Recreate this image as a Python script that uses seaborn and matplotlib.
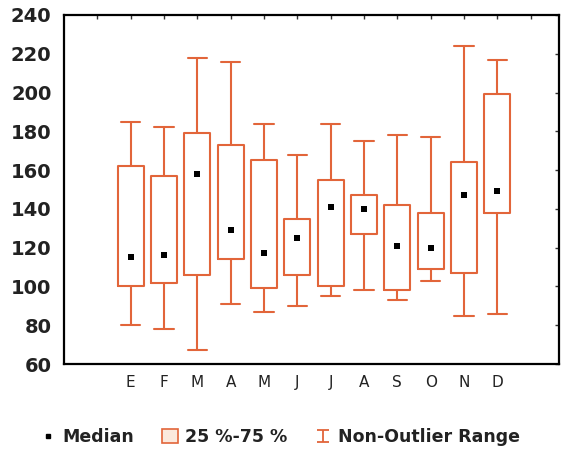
import numpy as np
import pandas as pd
import matplotlib
matplotlib.use("Agg")
import matplotlib.pyplot as plt
from matplotlib.lines import Line2D
from matplotlib.patches import Patch
from matplotlib.path import Path
import seaborn as sns

# months (Spanish) and their axis letters
meses = ["Ene", "Feb", "Mar", "Abr", "May", "Jun",
         "Jul", "Ago", "Sep", "Oct", "Nov", "Dic"]
letras = ["E", "F", "M", "A", "M", "J", "J", "A", "S", "O", "N", "D"]

# values
minimo = [80, 78, 67, 91, 87, 90, 95, 98, 93, 103, 85, 86]
q1 = [100, 102, 106, 114, 99, 106, 100, 127, 98, 109, 107, 138]
mediana = [115, 116, 158, 129, 117, 125, 141, 140, 121, 120, 147, 149]
q3 = [162, 157, 179, 173, 165, 135, 155, 147, 142, 138, 164, 199]
maximo = [185, 182, 218, 216, 184, 168, 184, 175, 178, 177, 224, 217]

naranja = "#E2653A"

# five numbers per month -> quartiles land exactly on q1/median/q3
rows = []
for i, m in enumerate(meses):
    for v in [minimo[i], q1[i], mediana[i], q3[i], maximo[i]]:
        rows.append({"mes": m, "valor": v})
df = pd.DataFrame(rows)

sns.set_style("white")
plt.rcParams["font.family"] = ["DejaVu Sans"]

fig = plt.figure(figsize=(5.62, 4.5), dpi=100)
ax = fig.add_axes([64 / 562, 86 / 450, 495 / 562, 349 / 450])

sns.boxplot(data=df, x="mes", y="valor", order=meses, whis=(0, 100),
            fill=False, color=naranja, width=0.78, linewidth=1.5,
            capwidths=0.58, medianprops={"visible": False}, ax=ax)
sns.stripplot(x=meses, y=mediana, order=meses, jitter=False, marker="s",
              color="black", size=4.5, ax=ax, zorder=5)

ax.set_xlim(-2, 12.85)
ax.set_ylim(60, 240)
ax.set_yticks(np.arange(60, 241, 20))
ax.set_xticks(range(-1, 13))
ax.set_xticklabels([""] + letras + [""])
ax.set_xlabel("")
ax.set_ylabel("")
for lab in ax.get_yticklabels():
    lab.set_fontsize(14)
    lab.set_fontweight("bold")
    lab.set_color("#222222")
for lab in ax.get_xticklabels():
    lab.set_fontsize(11)
    lab.set_color("#222222")
ax.tick_params(direction="in", length=3, width=1, top=True, right=True,
               color="#333333")
ax.tick_params(axis="y", pad=9)
ax.tick_params(axis="x", pad=8)
for s in ax.spines.values():
    s.set_visible(True)
    s.set_linewidth(1.6)
    s.set_color("black")

# legend at the bottom
ibeam = Path([(-1, 1), (1, 1), (0, 1), (0, -1), (-1, -1), (1, -1)],
             [Path.MOVETO, Path.LINETO, Path.MOVETO, Path.LINETO,
              Path.MOVETO, Path.LINETO])
handles = [
    Line2D([], [], marker="s", linestyle="none", color="black", markersize=3.5),
    Patch(facecolor="#FBE9DD", edgecolor=naranja, linewidth=1.2),
    Line2D([], [], marker=ibeam, linestyle="none", color=naranja,
           markersize=9, markeredgewidth=1.3),
]
leg = fig.legend(handles, ["Median", "25 %-75 %", "Non-Outlier Range"],
                 loc="center", bbox_to_anchor=(0.498, 1 - 437 / 450), ncol=3,
                 frameon=False, handlelength=0.9,
                 handletextpad=0.4, columnspacing=1.6, handleheight=0.8,
                 prop={"size": 12.5, "weight": "bold"})
for t in leg.get_texts():
    t.set_color("#222222")

fig.savefig("out.png", dpi=100)
